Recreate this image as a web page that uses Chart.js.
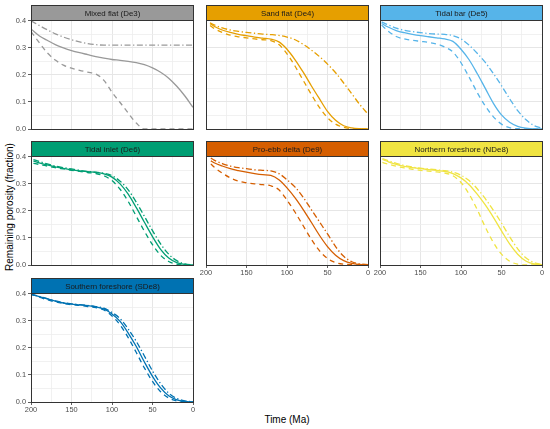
<!DOCTYPE html>
<html>
<head>
<meta charset="utf-8">
<script src="https://cdn.jsdelivr.net/npm/chart.js@4.4.1/dist/chart.umd.min.js"></script>
<style>
  html, body { margin: 0; padding: 0; background: #fff; }
  #wrap { position: relative; width: 550px; height: 429px; overflow: hidden; font-family: "Liberation Sans", Arial, sans-serif; }
  #wrap canvas { position: absolute; }
  .axTitle { position: absolute; font-size: 10px; color: #000; white-space: nowrap; }
</style>
</head>
<body>
<div id="wrap">
  <div class="axTitle" id="xTitle" style="left:287px; top:419px; transform: translate(-50%, -50%);">Time (Ma)</div>
  <div class="axTitle" id="yTitle" style="left:9px; top:207px; transform: translate(-50%, -50%) rotate(-90deg);">Remaining porosity (fraction)</div>
</div>
<script>
// time axis (Ma), shared by all facets
const timeMa = [200, 190, 180, 170, 160, 150, 140, 130, 120, 110, 100, 90, 80, 70, 60, 50, 40, 30, 20, 10, 0];

const facets = ["Mixed flat (De3)", "Sand flat (De4)", "Tidal bar (De5)", "Tidal inlet (De6)",
                "Pro-ebb delta (De9)", "Northern foreshore (NDe8)", "Southern foreshore (SDe8)"];
const facetColors = ["#999999", "#E69F00", "#56B4E9", "#009E73", "#D55E00", "#F0E442", "#0072B2"];
// where each curve starts (first value of every series)
const firstMa = [200, 195, 198, 197, 194, 197, 200];

const solidSeries = [
  [0.370, 0.345, 0.328, 0.312, 0.300, 0.290, 0.282, 0.275, 0.268, 0.262, 0.257, 0.254, 0.250, 0.245, 0.238, 0.226, 0.210, 0.188, 0.158, 0.122, 0.080],
  [0.390, 0.380, 0.366, 0.357, 0.350, 0.345, 0.340, 0.336, 0.332, 0.322, 0.295, 0.256, 0.210, 0.160, 0.112, 0.065, 0.032, 0.012, 0.004, 0.001, 0],
  [0.390, 0.377, 0.364, 0.356, 0.350, 0.345, 0.341, 0.337, 0.333, 0.324, 0.295, 0.256, 0.205, 0.150, 0.095, 0.052, 0.025, 0.010, 0.003, 0, 0],
  [0.384, 0.378, 0.370, 0.363, 0.357, 0.352, 0.348, 0.345, 0.342, 0.337, 0.325, 0.300, 0.262, 0.212, 0.158, 0.105, 0.058, 0.026, 0.009, 0.002, 0],
  [0.385, 0.378, 0.366, 0.356, 0.349, 0.343, 0.338, 0.334, 0.331, 0.315, 0.285, 0.248, 0.205, 0.158, 0.110, 0.068, 0.036, 0.016, 0.006, 0.002, 0],
  [0.390, 0.382, 0.372, 0.365, 0.360, 0.356, 0.353, 0.350, 0.346, 0.338, 0.322, 0.297, 0.262, 0.222, 0.176, 0.126, 0.078, 0.040, 0.015, 0.004, 0.001],
  [0.398, 0.390, 0.381, 0.373, 0.366, 0.362, 0.359, 0.356, 0.352, 0.344, 0.325, 0.298, 0.255, 0.205, 0.148, 0.095, 0.052, 0.023, 0.008, 0.002, 0]
];
const dashedSeries = [
  [0.360, 0.320, 0.282, 0.255, 0.236, 0.225, 0.217, 0.210, 0.203, 0.180, 0.136, 0.098, 0.059, 0.022, 0, 0, 0, 0, 0, 0, 0],
  [0.383, 0.372, 0.357, 0.347, 0.341, 0.337, 0.333, 0.330, 0.327, 0.312, 0.278, 0.232, 0.180, 0.128, 0.080, 0.042, 0.018, 0.006, 0.001, 0, 0],
  [0.384, 0.362, 0.342, 0.333, 0.328, 0.324, 0.320, 0.314, 0.303, 0.285, 0.245, 0.192, 0.135, 0.085, 0.045, 0.018, 0.005, 0.001, 0, 0, 0],
  [0.376, 0.372, 0.366, 0.360, 0.355, 0.350, 0.346, 0.342, 0.338, 0.330, 0.312, 0.280, 0.235, 0.180, 0.125, 0.075, 0.036, 0.013, 0.003, 0, 0],
  [0.374, 0.362, 0.340, 0.322, 0.310, 0.304, 0.300, 0.297, 0.293, 0.278, 0.240, 0.195, 0.145, 0.095, 0.053, 0.024, 0.009, 0.003, 0.001, 0, 0],
  [0.379, 0.373, 0.365, 0.359, 0.354, 0.350, 0.347, 0.344, 0.340, 0.330, 0.305, 0.262, 0.205, 0.140, 0.083, 0.040, 0.014, 0.003, 0, 0, 0],
  [0.400, 0.388, 0.378, 0.370, 0.364, 0.360, 0.357, 0.353, 0.349, 0.340, 0.318, 0.285, 0.238, 0.183, 0.126, 0.076, 0.038, 0.015, 0.004, 0.001, 0]
];
const dotdashSeries = [
  [0.400, 0.383, 0.367, 0.352, 0.340, 0.330, 0.322, 0.316, 0.312, 0.310, 0.310, 0.310, 0.310, 0.310, 0.310, 0.310, 0.310, 0.310, 0.310, 0.310, 0.310],
  [0.393, 0.385, 0.374, 0.366, 0.361, 0.357, 0.354, 0.351, 0.349, 0.346, 0.340, 0.330, 0.313, 0.292, 0.268, 0.240, 0.208, 0.170, 0.130, 0.090, 0.055],
  [0.396, 0.385, 0.373, 0.365, 0.360, 0.356, 0.353, 0.351, 0.350, 0.345, 0.333, 0.310, 0.280, 0.246, 0.205, 0.160, 0.112, 0.068, 0.035, 0.013, 0.003],
  [0.390, 0.383, 0.374, 0.366, 0.360, 0.355, 0.350, 0.346, 0.343, 0.339, 0.330, 0.310, 0.278, 0.232, 0.180, 0.127, 0.078, 0.040, 0.016, 0.004, 0],
  [0.395, 0.388, 0.375, 0.366, 0.360, 0.356, 0.352, 0.350, 0.348, 0.338, 0.315, 0.288, 0.250, 0.205, 0.160, 0.115, 0.068, 0.032, 0.012, 0.004, 0.001],
  [0.393, 0.386, 0.376, 0.368, 0.362, 0.358, 0.355, 0.352, 0.349, 0.343, 0.332, 0.312, 0.282, 0.245, 0.202, 0.155, 0.105, 0.060, 0.027, 0.009, 0.002],
  [0.397, 0.391, 0.382, 0.374, 0.367, 0.363, 0.360, 0.357, 0.353, 0.347, 0.331, 0.308, 0.270, 0.224, 0.170, 0.115, 0.068, 0.033, 0.013, 0.004, 0.001]
];

const xTicksMajor = [0, 50, 100, 150, 200];
const yTicksMajor = [0, 0.1, 0.2, 0.3, 0.4];

// facet grid geometry
const colLeft = [31, 206, 380];
const rowTop = [5, 141, 278];
const stripH = 15, yAxisW = 30, xAxisH = 14, plotW = 162, plotH = 109, padR = 4;
const FONT = '"Liberation Sans", Arial, sans-serif';

function isMajorX(v) { return xTicksMajor.some(t => Math.abs(t - v) < 1e-6); }
function isMajorY(v) { return yTicksMajor.some(t => Math.abs(t - v) < 1e-6); }

const stripPlugin = {
    id: "strip",
    afterDraw(chart, args, opts) {
        const ctx = chart.ctx;
        const a = chart.chartArea;
        const l = Math.round(a.left) + 0.5, t = Math.round(a.top) + 0.5;
        const w = Math.round(a.right - a.left), h = Math.round(a.bottom - a.top);
        ctx.save();
        ctx.strokeStyle = "#333333";
        ctx.lineWidth = 1;
        ctx.strokeRect(l, t, w, h);
        ctx.fillStyle = opts.fill;
        ctx.fillRect(l, t - stripH, w, stripH);
        ctx.strokeRect(l, t - stripH, w, stripH);
        ctx.fillStyle = "#1A1A1A";
        ctx.font = "7.9px " + FONT;
        ctx.textAlign = "center";
        ctx.textBaseline = "middle";
        ctx.fillText(opts.text, l + w / 2, t - stripH / 2 + 0.5);
        ctx.restore();
    }
};

function lineData(values, p) {
    return values.map((v, i) => ({ x: i === 0 ? firstMa[p] : timeMa[i], y: v }));
}

const wrap = document.getElementById("wrap");

facets.forEach((name, p) => {
    const col = p % 3, row = Math.floor(p / 3);
    const showY = col === 0;
    const showX = p >= 4; // bottom panel of each column
    const color = facetColors[p];

    const cv = document.createElement("canvas");
    const W = yAxisW + plotW + padR, H = stripH + plotH + xAxisH;
    cv.width = W; cv.height = H;
    cv.style.width = W + "px"; cv.style.height = H + "px";
    cv.style.left = (colLeft[col] - yAxisW) + "px";
    cv.style.top = rowTop[row] + "px";
    wrap.appendChild(cv);

    new Chart(cv.getContext("2d"), {
        type: "line",
        data: {
            datasets: [
                { data: lineData(solidSeries[p], p), borderColor: color, borderWidth: 1.3 },
                { data: lineData(dashedSeries[p], p), borderColor: color, borderWidth: 1.3, borderDash: [5, 4] },
                { data: lineData(dotdashSeries[p], p), borderColor: color, borderWidth: 1.3, borderDash: [6, 2.5, 1.3, 2.5] }
            ]
        },
        options: {
            responsive: false,
            animation: false,
            devicePixelRatio: 1,
            layout: { padding: { top: stripH, right: padR, left: 0, bottom: 0 } },
            elements: {
                point: { radius: 0 },
                line: { cubicInterpolationMode: "monotone", fill: false }
            },
            plugins: {
                legend: { display: false },
                tooltip: { enabled: false },
                strip: { text: name, fill: color }
            },
            scales: {
                x: {
                    type: "linear",
                    reverse: true,
                    min: 0,
                    max: 200,
                    afterFit: s => { s.height = xAxisH; },
                    border: { display: false },
                    grid: {
                        color: c => isMajorX(c.tick.value) ? "#E6E6E6" : "#EEEEEE",
                        lineWidth: c => isMajorX(c.tick.value) ? 1 : 0.8,
                        tickLength: 3,
                        tickColor: c => (showX && isMajorX(c.tick.value)) ? "#333333" : "rgba(0,0,0,0)",
                        tickWidth: 0.8
                    },
                    ticks: {
                        display: showX,
                        stepSize: 25,
                        autoSkip: false,
                        maxRotation: 0,
                        padding: 1,
                        color: "#4D4D4D",
                        font: { family: FONT, size: 7.4 },
                        callback: v => isMajorX(v) ? String(Math.round(v)) : ""
                    }
                },
                y: {
                    min: 0,
                    max: 0.403,
                    afterFit: s => { s.width = yAxisW; },
                    border: { display: false },
                    grid: {
                        color: c => isMajorY(c.tick.value) ? "#E6E6E6" : "#EEEEEE",
                        lineWidth: c => isMajorY(c.tick.value) ? 1 : 0.8,
                        tickLength: 3,
                        tickColor: c => (showY && isMajorY(c.tick.value)) ? "#333333" : "rgba(0,0,0,0)",
                        tickWidth: 0.8
                    },
                    ticks: {
                        display: showY,
                        stepSize: 0.05,
                        includeBounds: false,
                        autoSkip: false,
                        padding: 2,
                        color: "#4D4D4D",
                        font: { family: FONT, size: 7.4 },
                        callback: v => isMajorY(v) ? v.toFixed(1) : ""
                    }
                }
            }
        },
        plugins: [stripPlugin]
    });
});
</script>
</body>
</html>
